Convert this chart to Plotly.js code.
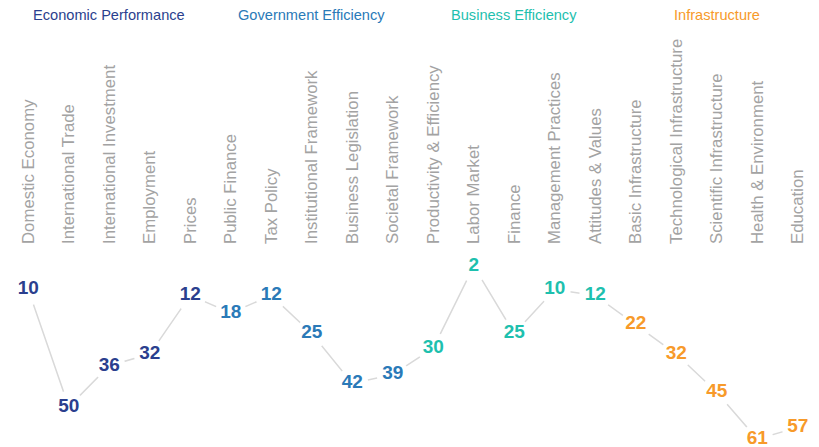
<!DOCTYPE html>
<html>
<head>
<meta charset="utf-8">
<script src="https://cdn.plot.ly/plotly-3.0.1.min.js"></script>
<style>html,body{margin:0;padding:0;background:#fff;}#chart{width:819px;height:447px;}</style>
</head>
<body>
<div id="chart"></div>
<script>
const categories = ["Domestic Economy","International Trade","International Investment","Employment","Prices",
  "Public Finance","Tax Policy","Institutional Framework","Business Legislation","Societal Framework",
  "Productivity & Efficiency","Labor Market","Finance","Management Practices","Attitudes & Values",
  "Basic Infrastructure","Technological Infrastructure","Scientific Infrastructure","Health & Environment","Education"];
const ranks = [10,50,36,32,12, 18,12,25,42,39, 30,2,25,10,12, 22,32,45,61,57];
const groups = ["Economic Performance","Government Efficiency","Business Efficiency","Infrastructure"];
const groupColors = ["#2b3f8e","#2a7ab8","#1ec0ae","#f79a2a"];
const groupOfCategory = [0,0,0,0,0, 1,1,1,1,1, 2,2,2,2,2, 3,3,3,3,3];
const groupCenters = [2, 7, 12, 17];

const idx = categories.map((_, i) => i);
const textColors = groupOfCategory.map(g => groupColors[g]);
const FONT = "'Liberation Sans', Arial, sans-serif";

const trace = {
  x: idx, y: ranks, type: "scatter", mode: "lines+markers+text",
  text: ranks.map(String), textposition: "middle center",
  textfont: {family: FONT, size: 19, color: textColors, weight: "bold"},
  line: {color: "#d9d9d9", width: 1.5},
  marker: {color: "#ffffff", size: 32, line: {width: 0}},
  cliponaxis: false, hoverinfo: "skip"
};

const annotations = groups.map((g, i) => ({
  text: g, x: groupCenters[i], xref: "x", y: 1 + (245 - 15) / 202, yref: "paper", yanchor: "middle",
  showarrow: false, font: {family: FONT, size: 14.6, color: groupColors[i]}
}));

const layout = {
  width: 819, height: 447,
  margin: {l: 8, r: 1, t: 245, b: 0},
  paper_bgcolor: "#fff", plot_bgcolor: "#fff",
  showlegend: false,
  xaxis: {
    side: "top", range: [-0.5, 19.5], tickmode: "array", tickvals: idx, ticktext: categories,
    tickangle: -90, showgrid: false, zeroline: false, showline: false, ticks: "",
    tickfont: {family: FONT, size: 16.8, color: "#a3a3a3"},
    automargin: false, fixedrange: true
  },
  yaxis: {range: [63.7, -5.2], visible: false, showgrid: false, zeroline: false, fixedrange: true},
  annotations: annotations
};

Plotly.newPlot("chart", [trace], layout, {displayModeBar: false, staticPlot: true});
</script>
</body>
</html>
